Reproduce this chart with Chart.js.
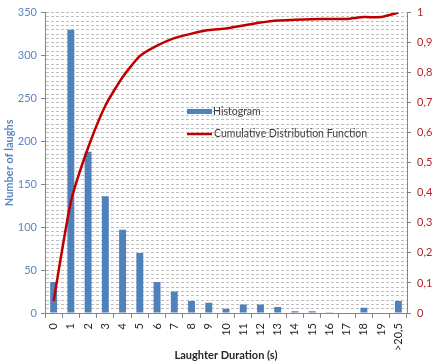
<!DOCTYPE html>
<html>
<head>
<meta charset="utf-8">
<script src="https://cdn.jsdelivr.net/npm/chart.js@4.4.1/dist/chart.umd.min.js"></script>
<style>
  html, body { margin: 0; padding: 0; background: #fff; }
  #wrap { width: 439px; height: 362px; }
</style>
</head>
<body>
<div id="wrap"><canvas id="myChart" width="439" height="362"></canvas></div>
<script>
const durations = ['0', '1', '2', '3', '4', '5', '6', '7', '8', '9', '10', '11', '12', '13', '14', '15', '16', '17', '18', '19', '>20,5'];
const laughCounts = [36, 330, 188, 136, 97, 70, 36, 25, 14, 12, 5, 10, 10, 7, 2, 2, 1, 0, 6, 0, 14];
const cdfValues = [0.04, 0.37, 0.55, 0.69, 0.785, 0.855, 0.89, 0.915, 0.93, 0.942, 0.947, 0.957, 0.967, 0.974, 0.976, 0.978, 0.979, 0.979, 0.985, 0.985, 1];

const blue = '#4F81BD';
const red = '#C00000';
const axisGray = '#868686';
const font = 'Lato, "Noto Sans", sans-serif';

Chart.defaults.font.family = font;
Chart.defaults.font.size = 11;

// legend drawn inside the plot, over the grid
const insideLegend = {
    id: 'insideLegend',
    afterDraw(chart) {
        const c = chart.ctx;
        c.save();
        c.fillStyle = blue;
        c.fillRect(187, 109, 25, 5);
        c.strokeStyle = red;
        c.lineWidth = 2.5;
        c.beginPath();
        c.moveTo(187, 134);
        c.lineTo(212, 134);
        c.stroke();
        c.fillStyle = '#404040';
        c.font = '10.5px ' + font;
        c.textBaseline = 'middle';
        c.fillText('Histogram', 213, 112);
        c.fillText('Cumulative Distribution Function', 214, 134);
        c.restore();
    }
};

new Chart(document.getElementById('myChart'), {
    data: {
        labels: durations,
        datasets: [{
            type: 'line',
            label: 'Cumulative Distribution Function',
            data: cdfValues,
            yAxisID: 'y1',
            borderColor: red,
            borderWidth: 2.5,
            pointRadius: 0,
            tension: 0.2,
            order: 0
        }, {
            type: 'bar',
            label: 'Histogram',
            data: laughCounts,
            yAxisID: 'y',
            backgroundColor: blue,
            categoryPercentage: 1,
            barPercentage: 0.4,
            order: 1
        }]
    },
    options: {
        responsive: false,
        animation: false,
        layout: { padding: { top: 9, right: 0, left: 0, bottom: 0 } },
        plugins: {
            legend: { display: false },
            tooltip: { enabled: false }
        },
        scales: {
            x: {
                offset: true,
                grid: {
                    offset: true,
                    drawOnChartArea: false,
                    drawTicks: true,
                    tickLength: 5,
                    color: axisGray
                },
                border: { color: axisGray, width: 1 },
                ticks: {
                    minRotation: 90,
                    maxRotation: 90,
                    autoSkip: false,
                    color: '#262626',
                    padding: 5
                },
                title: {
                    display: true,
                    text: 'Laughter Duration (s)',
                    color: '#262626',
                    font: { weight: 'bold', size: 11 },
                    padding: { top: 0, bottom: 0 }
                },
                afterFit(scale) { scale.height = 49; }
            },
            y: {
                position: 'left',
                min: 0,
                max: 350,
                grid: {
                    color: (ctx) => ctx.tick && ctx.tick.value === 0 ? 'transparent' : '#BEBEBE',
                    tickColor: (ctx) => ctx.tick && ctx.tick.value % 50 === 0 ? axisGray : 'transparent',
                    tickLength: 4,
                    lineWidth: 1
                },
                border: { color: axisGray, width: 1, dash: [3, 2] },
                ticks: {
                    stepSize: 5,
                    autoSkip: false,
                    color: '#5A87C2',
                    padding: 4,
                    callback: (v) => v % 50 === 0 ? String(v) : ''
                },
                title: {
                    display: true,
                    text: 'Number of laughs',
                    color: '#5A87C2',
                    font: { weight: 'bold', size: 11 },
                    padding: { top: 3, bottom: 2 }
                },
                afterFit(scale) { scale.width = 45; }
            },
            y1: {
                position: 'right',
                min: 0,
                max: 1,
                grid: {
                    drawOnChartArea: false,
                    tickLength: 4,
                    color: axisGray
                },
                border: { color: axisGray, width: 1 },
                ticks: {
                    stepSize: 0.1,
                    color: '#B0262A',
                    padding: 6,
                    callback: (v) => {
                        const r = Math.round(v * 10) / 10;
                        return (r === 0 || r === 1) ? String(r) : r.toFixed(1).replace('.', ',');
                    }
                },
                afterFit(scale) { scale.width = 32; }
            }
        }
    },
    plugins: [insideLegend]
});
</script>
</body>
</html>
